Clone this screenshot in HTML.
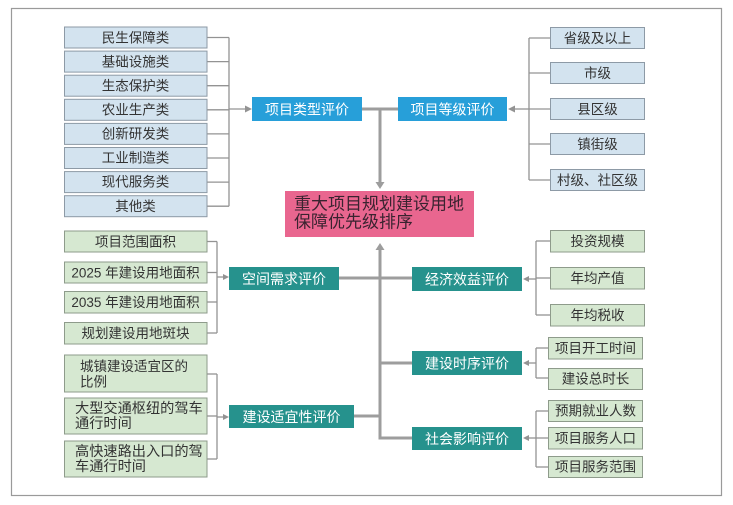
<!DOCTYPE html>
<html><head><meta charset="utf-8"><style>
html,body{margin:0;padding:0;background:#fff;}
svg{display:block;}
text{font-family:"Liberation Sans","Noto Sans CJK SC",sans-serif;}
</style></head><body>
<svg width="733" height="505" viewBox="0 0 733 505" xmlns="http://www.w3.org/2000/svg">
<rect x="0" y="0" width="733" height="505" fill="#fff"/>
<rect x="11.5" y="8.5" width="710" height="487" fill="none" stroke="#9a9a9a" stroke-width="1.2"/>

<!-- thin connectors -->
<g stroke="#939393" stroke-width="1.3" fill="none">
  <!-- left top group -->
  <line x1="207" y1="37.5" x2="229" y2="37.5"/>
  <line x1="207" y1="61.6" x2="229" y2="61.6"/>
  <line x1="207" y1="85.7" x2="229" y2="85.7"/>
  <line x1="207" y1="133.9" x2="229" y2="133.9"/>
  <line x1="207" y1="158" x2="229" y2="158"/>
  <line x1="207" y1="182.1" x2="229" y2="182.1"/>
  <line x1="207" y1="206.2" x2="229" y2="206.2"/>
  <line x1="229" y1="37.5" x2="229" y2="206.2"/>
  <line x1="207" y1="109.8" x2="229" y2="109.8"/>
  <line x1="229" y1="109" x2="246" y2="109"/>
  <!-- right top group -->
  <line x1="529" y1="38" x2="529" y2="180"/>
  <line x1="529" y1="38" x2="550" y2="38"/>
  <line x1="529" y1="73" x2="550" y2="73"/>
  <line x1="529" y1="109" x2="550" y2="109"/>
  <line x1="529" y1="144" x2="550" y2="144"/>
  <line x1="529" y1="180" x2="550" y2="180"/>
  <line x1="514" y1="109" x2="529" y2="109"/>
  <!-- left space group -->
  <line x1="217" y1="241.5" x2="217" y2="333"/>
  <line x1="207" y1="241.5" x2="217" y2="241.5"/>
  <line x1="207" y1="272.5" x2="217" y2="272.5"/>
  <line x1="207" y1="302" x2="217" y2="302"/>
  <line x1="207" y1="333" x2="217" y2="333"/>
  <line x1="217" y1="277" x2="224" y2="277"/>
  <!-- left suitability group -->
  <line x1="217" y1="374" x2="217" y2="459"/>
  <line x1="207" y1="374" x2="217" y2="374"/>
  <line x1="207" y1="416" x2="217" y2="416"/>
  <line x1="207" y1="459" x2="217" y2="459"/>
  <line x1="217" y1="417" x2="224" y2="417"/>
  <!-- right econ -->
  <line x1="536" y1="241" x2="536" y2="315"/>
  <line x1="536" y1="241" x2="550" y2="241"/>
  <line x1="536" y1="278" x2="550" y2="278"/>
  <line x1="536" y1="315" x2="550" y2="315"/>
  <line x1="528" y1="279" x2="536" y2="279"/>
  <!-- right time -->
  <line x1="536" y1="348" x2="536" y2="378"/>
  <line x1="536" y1="348" x2="548" y2="348"/>
  <line x1="536" y1="378" x2="548" y2="378"/>
  <line x1="528" y1="363" x2="536" y2="363"/>
  <!-- right social -->
  <line x1="536" y1="411" x2="536" y2="467"/>
  <line x1="536" y1="411" x2="548" y2="411"/>
  <line x1="536" y1="438" x2="548" y2="438"/>
  <line x1="536" y1="467" x2="548" y2="467"/>
  <line x1="528" y1="438" x2="536" y2="438"/>
</g>
<!-- thin arrowheads -->
<g fill="#939393">
  <polygon points="252,109 245,105.5 245,112.5"/>
  <polygon points="508,109 515,105.5 515,112.5"/>
  <polygon points="229,277 223,274 223,280"/>
  <polygon points="229,417 223,414 223,420"/>
  <polygon points="523,279 529,276 529,282"/>
  <polygon points="523,363 529,360 529,366"/>
  <polygon points="523,438 529,435 529,441"/>
</g>

<!-- thick connectors -->
<g stroke="#9d9d9d" stroke-width="3" fill="none">
  <line x1="362" y1="109" x2="398" y2="109"/>
  <line x1="380" y1="109" x2="380" y2="183"/>
  <line x1="380" y1="249" x2="380" y2="439.5"/>
  <line x1="339" y1="278" x2="412" y2="278"/>
  <line x1="354" y1="416" x2="380" y2="416"/>
  <line x1="380" y1="363" x2="412" y2="363"/>
  <line x1="380" y1="438" x2="412" y2="438"/>
</g>
<g fill="#9d9d9d">
  <polygon points="380,189 375.5,182 384.5,182"/>
  <polygon points="380,243 375.5,250 384.5,250"/>
</g>

<!-- left blue boxes -->
<g fill="#d3e3ef" stroke="#8d9aa6" stroke-width="1">
  <rect x="64.5" y="27" width="142.5" height="21"/>
  <rect x="64.5" y="51.1" width="142.5" height="21"/>
  <rect x="64.5" y="75.2" width="142.5" height="21"/>
  <rect x="64.5" y="99.3" width="142.5" height="21"/>
  <rect x="64.5" y="123.4" width="142.5" height="21"/>
  <rect x="64.5" y="147.5" width="142.5" height="21"/>
  <rect x="64.5" y="171.6" width="142.5" height="21"/>
  <rect x="64.5" y="195.7" width="142.5" height="21"/>
</g>
<g font-size="13.5" fill="#333" text-anchor="middle" dominant-baseline="central">
  <text x="135.5" y="38">民生保障类</text>
  <text x="135.5" y="62">基础设施类</text>
  <text x="135.5" y="86">生态保护类</text>
  <text x="135.5" y="110">农业生产类</text>
  <text x="135.5" y="134">创新研发类</text>
  <text x="135.5" y="158">工业制造类</text>
  <text x="135.5" y="182">现代服务类</text>
  <text x="135.5" y="206.5">其他类</text>
</g>

<!-- right blue boxes -->
<g fill="#d3e3ef" stroke="#8d9aa6" stroke-width="1">
  <rect x="550.5" y="27.5" width="94" height="21"/>
  <rect x="550.5" y="62.5" width="94" height="21"/>
  <rect x="550.5" y="98.5" width="94" height="21"/>
  <rect x="550.5" y="133.5" width="94" height="21"/>
  <rect x="550.5" y="169.5" width="94" height="21"/>
</g>
<g font-size="13.5" fill="#333" text-anchor="middle" dominant-baseline="central">
  <text x="597.5" y="38.5">省级及以上</text>
  <text x="597.5" y="73.5">市级</text>
  <text x="597.5" y="109.5">县区级</text>
  <text x="597.5" y="144.5">镇街级</text>
  <text x="597.5" y="180.5">村级、社区级</text>
</g>

<!-- green boxes left -->
<g fill="#d6e8d1" stroke="#8e9b8b" stroke-width="1">
  <rect x="64.5" y="231" width="142.5" height="21"/>
  <rect x="64.5" y="262" width="142.5" height="21"/>
  <rect x="64.5" y="291.5" width="142.5" height="21.5"/>
  <rect x="64.5" y="322.5" width="142.5" height="21.5"/>
  <rect x="64.5" y="355" width="142.5" height="37"/>
  <rect x="64.5" y="398" width="142.5" height="36"/>
  <rect x="64.5" y="441" width="142.5" height="36"/>
</g>
<g font-size="13.5" fill="#333" text-anchor="middle" dominant-baseline="central">
  <text x="135.5" y="242">项目范围面积</text>
  <text x="135.5" y="273">2025 年建设用地面积</text>
  <text x="135.5" y="302.5">2035 年建设用地面积</text>
  <text x="135.5" y="333.5">规划建设用地斑块</text>
</g>
<g font-size="13.5" fill="#333" dominant-baseline="central">
  <text x="80" y="366.5">城镇建设适宜区的</text>
  <text x="80" y="382">比例</text>
  <text x="75" y="409" font-size="14.2">大型交通枢纽的驾车</text>
  <text x="75" y="424" font-size="14.2">通行时间</text>
  <text x="75" y="452" font-size="14.2">高快速路出入口的驾</text>
  <text x="75" y="467" font-size="14.2">车通行时间</text>
</g>

<!-- green boxes right -->
<g fill="#d6e8d1" stroke="#8e9b8b" stroke-width="1">
  <rect x="550.5" y="230.5" width="94" height="21.5"/>
  <rect x="550.5" y="267.5" width="94" height="21.5"/>
  <rect x="550.5" y="304.5" width="94" height="21.5"/>
  <rect x="548.5" y="337.5" width="94" height="21.5"/>
  <rect x="548.5" y="368.5" width="94" height="21"/>
  <rect x="548.5" y="400.5" width="94" height="21"/>
  <rect x="548.5" y="427.5" width="94" height="21.5"/>
  <rect x="548.5" y="456.5" width="94" height="21"/>
</g>
<g font-size="13.5" fill="#333" text-anchor="middle" dominant-baseline="central">
  <text x="597.5" y="241.5">投资规模</text>
  <text x="597.5" y="278.5">年均产值</text>
  <text x="597.5" y="315.5">年均税收</text>
  <text x="595.5" y="348.5">项目开工时间</text>
  <text x="595.5" y="379">建设总时长</text>
  <text x="595.5" y="411">预期就业人数</text>
  <text x="595.5" y="438.5">项目服务人口</text>
  <text x="595.5" y="467">项目服务范围</text>
</g>

<!-- eval boxes -->
<g fill="#279fd9">
  <rect x="252" y="97" width="110" height="24"/>
  <rect x="398" y="97" width="109" height="24"/>
</g>
<g fill="#26928d">
  <rect x="229" y="267" width="110" height="23"/>
  <rect x="229" y="405" width="125" height="23"/>
  <rect x="412" y="267" width="110" height="24"/>
  <rect x="412" y="351" width="110" height="24"/>
  <rect x="412" y="427" width="110" height="23"/>
</g>
<g font-size="14" fill="#fff" text-anchor="middle" dominant-baseline="central">
  <text x="307" y="109.5">项目类型评价</text>
  <text x="452.5" y="109.5">项目等级评价</text>
  <text x="284" y="279">空间需求评价</text>
  <text x="291.5" y="417">建设适宜性评价</text>
  <text x="467" y="279.5">经济效益评价</text>
  <text x="467" y="363.5">建设时序评价</text>
  <text x="467" y="439">社会影响评价</text>
</g>

<!-- central pink box -->
<rect x="285" y="191" width="189" height="46" fill="#e9668f"/>
<g font-size="17" fill="#3a2330" dominant-baseline="central">
  <text x="294" y="204">重大项目规划建设用地</text>
  <text x="294" y="222">保障优先级排序</text>
</g>
</svg>
</body></html>
